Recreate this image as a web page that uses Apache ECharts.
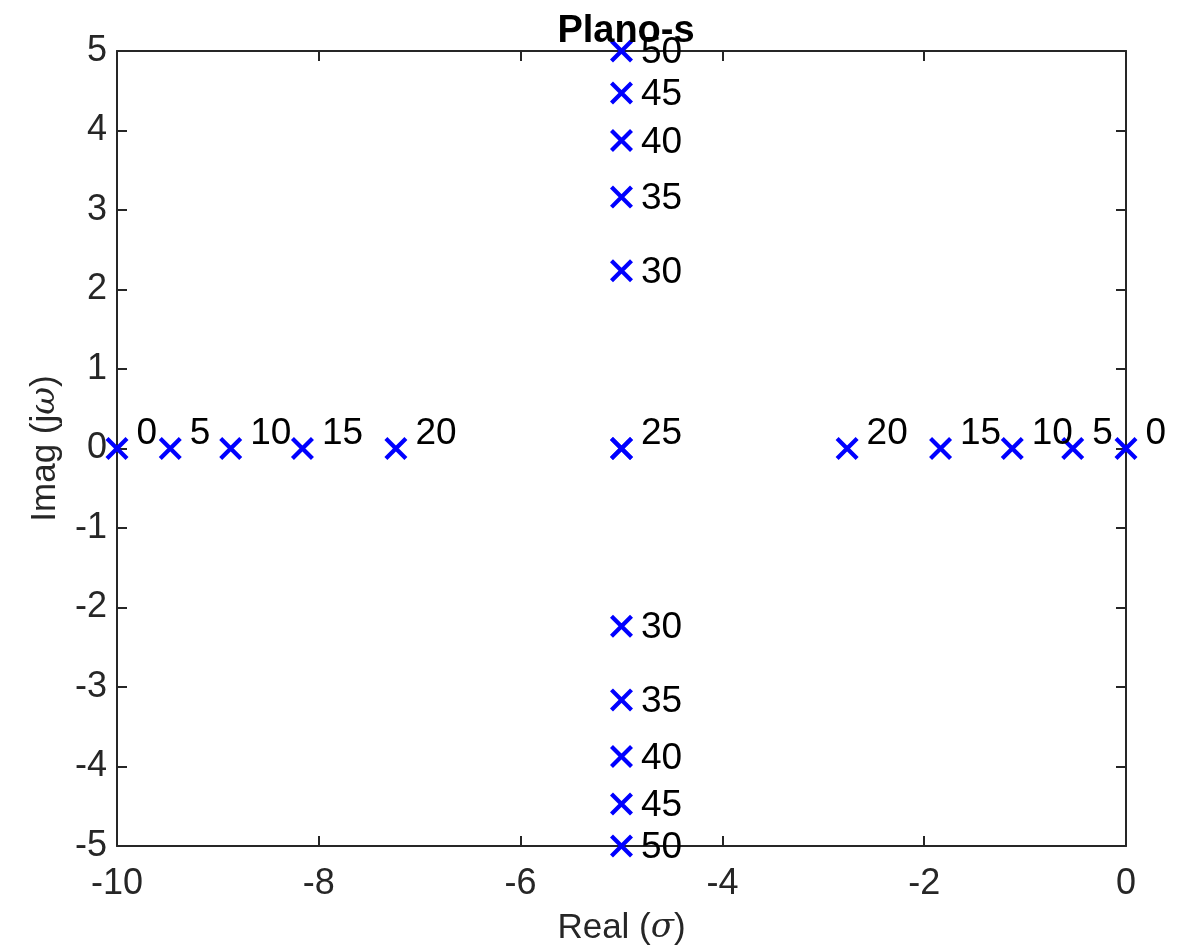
<!DOCTYPE html>
<html>
<head>
<meta charset="utf-8">
<script src="https://cdn.jsdelivr.net/npm/echarts@6/dist/echarts.min.js"></script>
<style>
html,body{margin:0;padding:0;background:#fff;}
#chart{width:1190px;height:947px;}
</style>
</head>
<body>
<div id="chart"></div>
<script>
// Gain values K used as labels
const gains = [0, 5, 10, 15, 20, 25, 30, 35, 40, 45, 50];
// Branch 1 poles (upper / right)
const branch1Re = [0, -0.528, -1.127, -1.838, -2.764, -5, -5, -5, -5, -5, -5];
const branch1Im = [0, 0, 0, 0, 0, 0, 2.236, 3.162, 3.873, 4.472, 5];
// Branch 2 poles (lower / left)
const branch2Re = [-10, -9.472, -8.873, -8.162, -7.236, -5, -5, -5, -5, -5, -5];
const branch2Im = [0, 0, 0, 0, 0, 0, -2.236, -3.162, -3.873, -4.472, -5];
// Tick values
const xTicks = [-10, -8, -6, -4, -2, 0];
const yTicks = [-5, -4, -3, -2, -1, 0, 1, 2, 3, 4, 5];

const FONT = '"Liberation Sans", Arial, Helvetica, sans-serif';
const AX = '#262626';

function buildData(re, im, hideIdx) {
  return re.map((r, i) => {
    const onReal = im[i] === 0;
    return {
      value: [r, im[i]],
      name: String(gains[i]),
      label: {
        show: !(hideIdx && hideIdx.includes(i)),
        color: '#000',
        offset: [0, onReal ? -15 : 2]
      }
    };
  });
}

// filled "x" glyph (thick diagonal strokes)
const crossSymbol = 'path://M0,1.3L1.3,0L10,8.7L8.7,10Z M8.7,0L10,1.3L1.3,10L0,8.7Z';

const seriesStyle = {
  type: 'scatter',
  symbol: crossSymbol,
  symbolSize: 23,
  itemStyle: { color: '#0000ff', opacity: 1 },
  label: {
    position: 'right',
    distance: 8,
    formatter: p => p.name,
    color: '#000',
    fontSize: 37,
    fontFamily: FONT
  },
  emphasis: { disabled: true },
  z: 5
};

const chart = echarts.init(document.getElementById('chart'), null, { renderer: 'canvas' });
const axisLine = { show: true, onZero: false, lineStyle: { color: AX, width: 2 } };
const tick = { show: true, inside: true, length: 10, lineStyle: { color: AX, width: 2 } };
const richI = { i: { fontFamily: '"DejaVu Serif", serif', fontStyle: 'italic', fontSize: 34, color: AX } };
chart.setOption({
  animation: false,
  backgroundColor: '#fff',
  title: {
    text: 'Plano-s',
    left: 621, top: 8,
    textAlign: 'center',
    textStyle: { fontFamily: FONT, fontWeight: 'bold', fontSize: 38, color: '#000' }
  },
  grid: { left: 117, right: 64, top: 51, bottom: 101, containLabel: false, outerBoundsMode: 'none' },
  xAxis: [{
    type: 'value', min: -10, max: 0, interval: 2, position: 'bottom',
    axisLine, axisTick: tick,
    axisLabel: { color: AX, fontSize: 36, fontFamily: FONT, margin: 20,
      formatter: v => xTicks.includes(v) ? String(v) : '' },
    splitLine: { show: false },
    name: 'Real ({i|σ})', nameLocation: 'middle', nameGap: 65,
    nameTextStyle: { color: AX, fontSize: 35, fontFamily: FONT, rich: richI }
  }, {
    type: 'value', min: -10, max: 0, interval: 2, position: 'top',
    axisLine, axisTick: tick,
    axisLabel: { show: false }, splitLine: { show: false }
  }],
  yAxis: [{
    type: 'value', min: -5, max: 5, interval: 1, position: 'left',
    axisLine, axisTick: tick,
    axisLabel: { color: AX, fontSize: 36, fontFamily: FONT, margin: 10,
      formatter: v => yTicks.includes(v) ? String(v) : '' },
    splitLine: { show: false },
    name: 'Imag (j{i|ω})', nameLocation: 'middle', nameGap: 54, nameRotate: 90,
    nameTextStyle: { color: AX, fontSize: 35, fontFamily: FONT, rich: richI }
  }, {
    type: 'value', min: -5, max: 5, interval: 1, position: 'right',
    axisLine, axisTick: tick,
    axisLabel: { show: false }, splitLine: { show: false }
  }],
  series: [
    Object.assign({}, seriesStyle, { name: 'branch1', data: buildData(branch1Re, branch1Im) }),
    Object.assign({}, seriesStyle, { name: 'branch2', data: buildData(branch2Re, branch2Im, [5]) })
  ]
});
</script>
</body>
</html>
